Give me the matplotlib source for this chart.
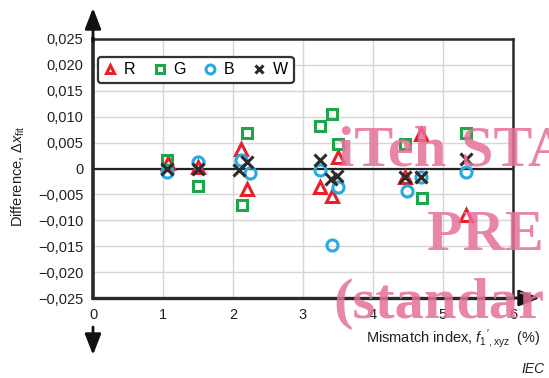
import matplotlib
matplotlib.use("Agg")
import matplotlib.pyplot as plt
from matplotlib.ticker import FuncFormatter, MultipleLocator

plt.rcParams['font.family'] = ['Liberation Sans', 'DejaVu Sans']
plt.rcParams['mathtext.fontset'] = 'custom'
plt.rcParams['mathtext.rm'] = 'Liberation Sans'
plt.rcParams['mathtext.it'] = 'Liberation Sans:italic'

# ---- data ----
r_x = [1.07, 1.50, 2.11, 2.20, 3.24, 3.41, 3.50, 4.46, 4.69, 5.33]
r_y = [0.0010, 0.0002, 0.0038, -0.0039, -0.0035, -0.0053, 0.0023, -0.0017, 0.0067, -0.0090]

g_x = [1.06, 1.50, 2.20, 2.13, 3.24, 3.41, 3.50, 4.46, 4.70, 5.33]
g_y = [0.0017, -0.0034, 0.0069, -0.0071, 0.0083, 0.0106, 0.0048, 0.0048, -0.0056, 0.0069]

b_x = [1.06, 1.50, 2.11, 2.24, 3.24, 3.50, 3.41, 4.48, 4.69, 5.33]
b_y = [-0.0006, 0.0013, 0.0017, -0.0008, -0.0002, -0.0035, -0.0148, -0.0044, -0.0017, -0.0006]

w_x = [1.06, 1.50, 2.20, 2.09, 3.24, 3.40, 3.48, 4.46, 4.69, 5.33]
w_y = [0.0000, 0.0000, 0.0013, -0.0003, 0.0017, -0.0020, -0.0015, -0.0017, -0.0017, 0.0019]

series_labels = ['R', 'G', 'B', 'W']
x_ticks = [0, 1, 2, 3, 4, 5, 6]

fig = plt.figure(figsize=(5.49, 3.78), dpi=100)
ax = fig.add_axes([93/549, 1-298/378, 420/549, 259/378])

ax.set_xlim(0, 6)
ax.set_ylim(-0.025, 0.025)
ax.set_xticks(x_ticks)
ax.yaxis.set_major_locator(MultipleLocator(0.005))

def yfmt(v, pos):
    if abs(v) < 1e-9:
        return '0'
    s = f"{abs(v):.3f}".replace('.', ',')
    return ('\u2212' if v < 0 else '') + s

ax.yaxis.set_major_formatter(FuncFormatter(yfmt))
ax.tick_params(length=0, pad=7, labelsize=10.5, colors='#222222')

ax.grid(True, color='#d6d6d6', linewidth=1.0)
ax.set_axisbelow(True)
ax.axhline(0, color='#222222', linewidth=1.6, zorder=2)

for side, lw in [('left', 2.6), ('bottom', 2.4), ('top', 1.8), ('right', 1.8)]:
    ax.spines[side].set_linewidth(lw)
    ax.spines[side].set_color('#2a2a2a')

ms = 8
mew = 2.2
ax.plot(r_x, r_y, linestyle='none', marker='^', markersize=ms, markerfacecolor='none',
        markeredgecolor='#e8202a', markeredgewidth=mew, label=series_labels[0], zorder=3)
ax.plot(g_x, g_y, linestyle='none', marker='s', markersize=ms-0.5, markerfacecolor='none',
        markeredgecolor='#1fa64a', markeredgewidth=mew, label=series_labels[1], zorder=3)
ax.plot(b_x, b_y, linestyle='none', marker='o', markersize=ms, markerfacecolor='none',
        markeredgecolor='#27a9e1', markeredgewidth=mew, label=series_labels[2], zorder=3)
ax.plot(w_x, w_y, linestyle='none', marker='x', markersize=ms, markerfacecolor='none',
        markeredgecolor='#2b2b2b', markeredgewidth=mew, label=series_labels[3], zorder=4)

leg = ax.legend(loc='upper left', ncol=4, bbox_to_anchor=(0.0, 0.95), frameon=True,
                fontsize=11.5, handlelength=0.8, handletextpad=0.45, columnspacing=1.15,
                borderpad=0.35, fancybox=True, borderaxespad=0.3, markerscale=0.8)
leg.get_frame().set_edgecolor('#333333')
leg.get_frame().set_linewidth(1.6)
leg.get_frame().set_alpha(1)

# arrows
arrow_kw = dict(arrowstyle='-|>,head_length=0.9,head_width=0.35', color='#111111',
                lw=2.0, mutation_scale=14, shrinkA=0, shrinkB=0)
ax.annotate('', xy=(0, 1 + 31/259), xytext=(0, 0.99), xycoords='axes fraction',
            textcoords='axes fraction', arrowprops=arrow_kw, annotation_clip=False)
ax.annotate('', xy=(0, -57/259), xytext=(0, -29/259), xycoords='axes fraction',
            textcoords='axes fraction', arrowprops=arrow_kw, annotation_clip=False)
ax.annotate('', xy=(1 + 27/420, 0), xytext=(0.99, 0), xycoords='axes fraction',
            textcoords='axes fraction', arrowprops=arrow_kw, annotation_clip=False)

# axis labels
fig.text(18/549, 1-176/378, r'Difference, $\Delta\mathit{x}_{\mathrm{fit}}$', rotation=90,
         ha='center', va='center', fontsize=10.5, color='#222222')
fig.text(541/549, 1-339/378,
         r"Mismatch index, $\mathit{f}_{1}{}^{\prime}{}_{,\mathrm{xyz}}$  (%)",
         ha='right', va='center', fontsize=10.5, color='#222222')
fig.text(545/549, 1-369/378, 'IEC', ha='right', va='center', fontsize=10,
         style='italic', color='#222222')

# watermark
wm = dict(fontfamily='Liberation Serif', fontweight='bold', fontsize=42,
          color='#e5709a', alpha=0.85, zorder=10)
fig.text(338/549, 1-165/378, 'iTeh STA', ha='left', va='baseline', **wm)
fig.text(427/549, 1-250/378, 'PRE', ha='left', va='baseline', **wm)
fig.text(333/549, 1-318/378, '(standar', ha='left', va='baseline', **wm)

fig.savefig('out.png', dpi=100)
